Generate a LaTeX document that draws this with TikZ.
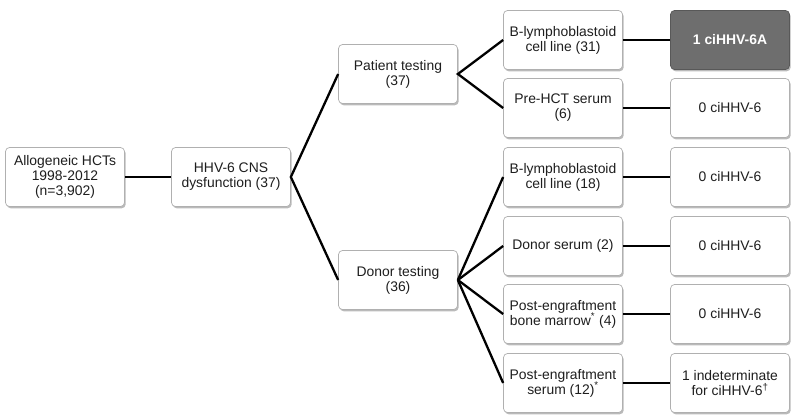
\documentclass[tikz,border=0pt]{standalone}
\usepackage{fontspec}
\setmainfont{Liberation Sans}
\usetikzlibrary{shadows}
\definecolor{txt}{HTML}{1E1E1E}
\definecolor{bord}{HTML}{B0B0B0}
\definecolor{darkbox}{HTML}{6E6E6E}
\begin{document}
\begin{tikzpicture}[x=1pt,y=-1pt,
  box/.style={draw=bord, line width=0.7pt, fill=white, rounded corners=4pt,
    minimum width=119pt, minimum height=59pt, inner sep=2pt, align=center,
    text=txt, font=\fontsize{13.9}{15}\selectfont,
    drop shadow={shadow xshift=1.2pt, shadow yshift=-1.8pt, fill=black!45, opacity=0.6}},
  darkbx/.style={box, fill=darkbox, draw=darkbox!80!black, text=white, font=\fontsize{13.9}{15}\selectfont\bfseries},
  conn/.style={draw=black, line width=2.3pt}]
\useasboundingbox (0,0) rectangle (800,420);
\node[box] (allo) at (65,177) {Allogeneic HCTs\\1998-2012\\(n=3,902)};
\node[box] (cns) at (231,177) {HHV-6 CNS\\dysfunction (37)};
\node[box] (pat) at (398,74) {Patient testing\\(37)};
\node[box] (don) at (398,280) {Donor testing\\(36)};
\node[box] (b31) at (563,40) {B-lymphoblastoid\\cell line (31)};
\node[box] (pre) at (563,108) {Pre-HCT serum\\(6)};
\node[box] (b18) at (563,177) {B-lymphoblastoid\\cell line (18)};
\node[box] (dser) at (563,246) {Donor serum (2)};
\node[box] (pbm) at (563,314) {Post-engraftment\\bone marrow\textsuperscript{*} (4)};
\node[box] (pser) at (563,383) {Post-engraftment\\serum (12)\textsuperscript{*}};
\node[darkbx] (r1) at (730,40) {1 ciHHV-6A};
\node[box] (r2) at (730,108) {0 ciHHV-6};
\node[box] (r3) at (730,177) {0 ciHHV-6};
\node[box] (r4) at (730,246) {0 ciHHV-6};
\node[box] (r5) at (730,314) {0 ciHHV-6};
\node[box] (r6) at (730,383) {1 indeterminate\\for ciHHV-6\textsuperscript{†}};
\draw[conn] (allo.east) -- (cns.west);
\draw[conn] (pat.west) -- (cns.east) -- (don.west);
\draw[conn] (b31.west) -- (pat.east) -- (pre.west);
\foreach \t in {b18,dser,pbm,pser} \draw[conn] (don.east) -- (\t.west);
\draw[conn] (b31.east) -- (r1.west);
\draw[conn] (pre.east) -- (r2.west);
\draw[conn] (b18.east) -- (r3.west);
\draw[conn] (dser.east) -- (r4.west);
\draw[conn] (pbm.east) -- (r5.west);
\draw[conn] (pser.east) -- (r6.west);
\end{tikzpicture}
\end{document}
